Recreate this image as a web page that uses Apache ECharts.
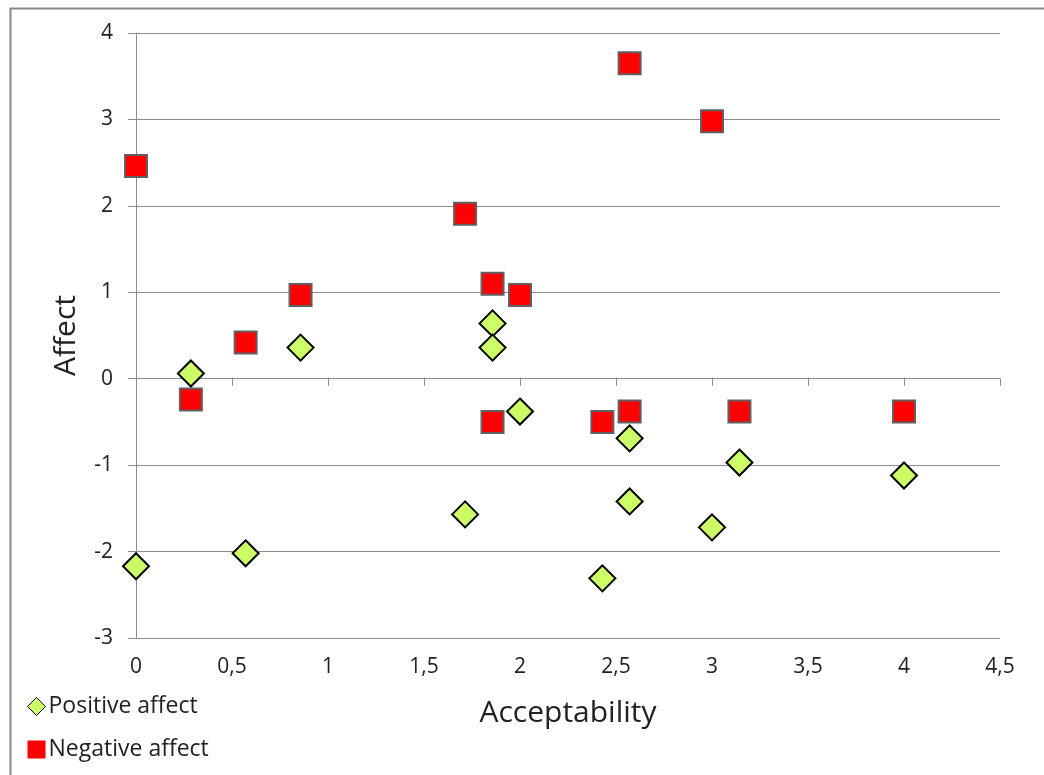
<!DOCTYPE html>
<html>
<head>
<meta charset="utf-8">
<script src="https://cdn.jsdelivr.net/npm/echarts@6/dist/echarts.min.js"></script>
<style>html,body{margin:0;padding:0;background:#fff}#c{width:1044px;height:775px}</style>
</head>
<body>
<div id="c"></div>
<script>
var seriesNames = ['Positive affect', 'Negative affect'];
var positiveX = [0, 0.286, 0.571, 0.857, 1.714, 1.857, 1.857, 2, 2.429, 2.571, 2.571, 3, 3.143, 4];
var positiveY = [-2.17, 0.06, -2.02, 0.36, -1.57, 0.64, 0.36, -0.38, -2.31, -0.69, -1.42, -1.72, -0.97, -1.12];
var negativeX = [0, 0.286, 0.571, 0.857, 1.714, 1.857, 1.857, 2, 2.429, 2.571, 2.571, 3, 3.143, 4];
var negativeY = [2.46, -0.24, 0.42, 0.97, 1.91, 1.10, -0.50, 0.97, -0.50, 3.65, -0.38, 2.98, -0.38, -0.38];
var xTicks = [0, 0.5, 1, 1.5, 2, 2.5, 3, 3.5, 4, 4.5];
var yTicks = [-3, -2, -1, 0, 1, 2, 3, 4];

function pairs(xs, ys) { return xs.map(function (x, i) { return [x, ys[i]]; }); }
function fmt(v) { return String(v).replace('.', ','); }

var FONT = '"Open Sans", sans-serif';
var chart = echarts.init(document.getElementById('c'), null, { renderer: 'canvas' });
chart.setOption({
  animation: false,
  backgroundColor: '#fff',
  graphic: [{
    type: 'rect', left: 8, top: 6, shape: { width: 1040, height: 780 },
    style: { fill: 'none', stroke: '#888', lineWidth: 2 }, silent: true, z: -1
  }],
  grid: { left: 136, right: 44, top: 33, bottom: 137, containLabel: false },
  xAxis: [{
    type: 'value', min: 0, max: 4.5, interval: 0.5, position: 'bottom',
    axisLine: { show: false, onZero: false }, axisTick: { show: false }, splitLine: { show: false },
    axisLabel: { color: '#222', fontSize: 21, fontFamily: FONT, margin: 19, formatter: fmt },
    name: 'Acceptability', nameLocation: 'middle', nameGap: 60,
    nameTextStyle: { fontSize: 30, color: '#222', fontFamily: FONT }
  }, {
    type: 'value', min: 0, max: 4.5, interval: 0.5, position: 'bottom',
    axisLine: { show: true, onZero: true, lineStyle: { color: '#8c8c8c', width: 1 } },
    axisTick: { show: true, length: 7, lineStyle: { color: '#8c8c8c' } },
    axisLabel: { show: false }, splitLine: { show: false }
  }],
  yAxis: {
    type: 'value', min: -3, max: 4, interval: 1,
    axisLine: { show: true, lineStyle: { color: '#8c8c8c', width: 1 } },
    axisTick: { show: true, length: 8, lineStyle: { color: '#8c8c8c' } },
    splitLine: { show: true, lineStyle: { color: '#8c8c8c', width: 1 } },
    axisLabel: { color: '#222', fontSize: 21, fontFamily: FONT, margin: 23 },
    name: 'Affect', nameLocation: 'middle', nameGap: 55, nameRotate: 90,
    nameTextStyle: { fontSize: 30, color: '#222', fontFamily: FONT }
  },
  legend: {
    orient: 'vertical', left: 22, top: 690, itemGap: 20,
    itemWidth: 18, itemHeight: 18,
    textStyle: { fontSize: 23, color: '#222', fontFamily: FONT, padding: [0, 0, 0, -2] },
    data: [
      { name: seriesNames[0], icon: 'diamond', itemStyle: { color: '#ccff66', borderColor: '#000', borderWidth: 1 } },
      { name: seriesNames[1], icon: 'rect', itemStyle: { color: '#ff0000', borderColor: '#ff0000', borderWidth: 0 } }
    ]
  },
  series: [{
    name: seriesNames[0], type: 'scatter', symbol: 'diamond', symbolSize: 26,
    itemStyle: { color: '#ccff66', borderColor: '#000', borderWidth: 2, opacity: 1 },
    data: pairs(positiveX, positiveY), z: 3
  }, {
    name: seriesNames[1], type: 'scatter', symbol: 'rect', symbolSize: 22,
    itemStyle: { color: '#ff0000', borderColor: '#606060', borderWidth: 2, opacity: 1 },
    data: pairs(negativeX, negativeY), z: 2
  }]
});
</script>
</body>
</html>
